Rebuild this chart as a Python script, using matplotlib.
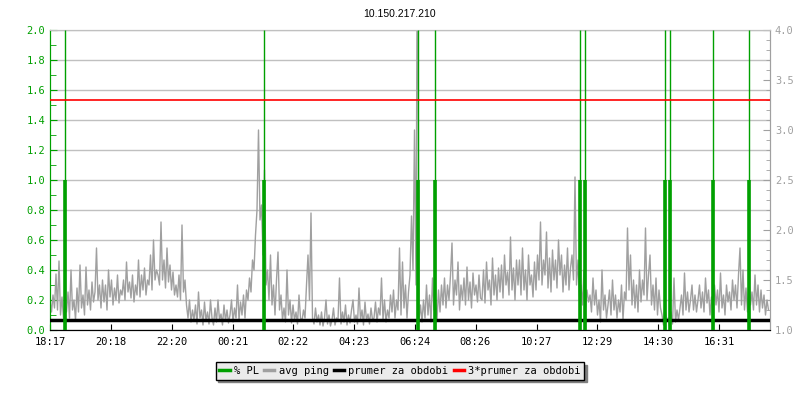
import matplotlib
matplotlib.use("Agg")
import matplotlib.pyplot as plt
import numpy as np
from matplotlib.lines import Line2D
from matplotlib.ticker import MultipleLocator, FormatStrFormatter

# avg ping [ms], one sample every 3 minutes from 18:17 (right axis)
ping = [
    1.30, 1.18, 1.35, 1.22, 1.56, 1.20, 1.69, 1.15, 1.33, 1.12, 1.25, 1.18,
    1.38, 1.12, 1.60, 1.20, 1.30, 1.10, 1.42, 1.18, 1.65, 1.22, 1.35, 1.15,
    1.63, 1.25, 1.40, 1.20, 1.48, 1.28, 1.38, 1.82, 1.30, 1.45, 1.22, 1.50,
    1.28, 1.45, 1.20, 1.60, 1.33, 1.50, 1.25, 1.42, 1.30, 1.55, 1.27, 1.40,
    1.35, 1.50, 1.30, 1.68, 1.38, 1.48, 1.32, 1.55, 1.28, 1.45, 1.35, 1.70,
    1.33, 1.55, 1.40, 1.62, 1.35, 1.50, 1.45, 1.75, 1.40, 1.90, 1.50, 1.60,
    1.55, 1.45, 2.08, 1.50, 1.70, 1.42, 1.82, 1.48, 1.65, 1.40, 1.58, 1.35,
    1.45, 1.33, 1.55, 1.30, 2.05, 1.38, 1.50, 1.25, 1.12, 1.30, 1.08, 1.20,
    1.10, 1.25, 1.06, 1.38, 1.12, 1.20, 1.05, 1.28, 1.09, 1.18, 1.06, 1.30,
    1.12, 1.05, 1.22, 1.08, 1.30, 1.10, 1.16, 1.05, 1.25, 1.09, 1.20, 1.07,
    1.15, 1.30, 1.08, 1.22, 1.12, 1.45, 1.10, 1.28, 1.15, 1.35, 1.12, 1.40,
    1.30, 1.52, 1.38, 1.70, 1.60, 1.95, 2.20, 3.00, 2.10, 2.25, 1.75, 2.60,
    1.45, 1.60, 1.30, 1.75, 1.25, 1.45, 1.15, 1.50, 1.78, 1.20, 1.35, 1.10,
    1.22, 1.08, 1.60, 1.15, 1.30, 1.07, 1.25, 1.10, 1.18, 1.06, 1.35, 1.12,
    1.09, 1.20, 1.12, 1.45, 1.75, 1.30, 2.17, 1.12, 1.06, 1.22, 1.08, 1.15,
    1.05, 1.18, 1.04, 1.12, 1.30, 1.06, 1.15, 1.04, 1.10, 1.22, 1.05, 1.12,
    1.10, 1.52, 1.06, 1.18, 1.08, 1.25, 1.05, 1.15, 1.07, 1.20, 1.30, 1.08,
    1.15, 1.06, 1.42, 1.10, 1.20, 1.05, 1.28, 1.09, 1.16, 1.06, 1.22, 1.10,
    1.12, 1.28, 1.08, 1.22, 1.15, 1.52, 1.10, 1.30, 1.08, 1.20, 1.12, 1.35,
    1.18, 1.40, 1.12, 1.30, 1.20, 1.82, 1.15, 1.68, 1.22, 1.45, 1.12, 1.38,
    1.55, 2.14, 1.60, 3.00, 1.45, 5.50, 1.10, 1.25, 1.08, 1.30, 1.12, 1.45,
    1.15, 1.35, 1.08, 1.52, 1.20, 1.30, 1.10, 1.40, 1.18, 1.45, 1.25, 1.52,
    1.22, 1.45, 1.30, 1.55, 1.87, 1.25, 1.50, 1.35, 1.68, 1.20, 1.45, 1.30,
    1.52, 1.25, 1.63, 1.30, 1.48, 1.22, 1.57, 1.35, 1.45, 1.28, 1.55, 1.32,
    1.30, 1.60, 1.27, 1.68, 1.40, 1.50, 1.25, 1.72, 1.35, 1.55, 1.30, 1.62,
    1.38, 1.65, 1.32, 1.75, 1.45, 1.58, 1.35, 1.93, 1.40, 1.62, 1.30, 1.70,
    1.45, 1.70, 1.35, 1.82, 1.40, 1.60, 1.30, 1.75, 1.45, 1.55, 1.33, 1.68,
    1.40, 1.75, 1.50, 2.08, 1.45, 1.70, 1.55, 1.98, 1.42, 1.72, 1.38, 1.80,
    1.50, 1.70, 1.42, 1.90, 1.55, 1.75, 1.38, 1.65, 1.45, 1.82, 1.40, 1.62,
    1.75, 1.50, 2.53, 1.45, 1.70, 1.30, 1.45, 1.25, 1.60, 1.22, 1.40, 1.28,
    1.35, 1.18, 1.52, 1.25, 1.40, 1.15, 1.30, 1.08, 1.60, 1.20, 1.35, 1.12,
    1.25, 1.40, 1.15, 1.50, 1.20, 1.35, 1.12, 1.30, 1.18, 1.45, 1.10, 1.38,
    1.30, 2.02, 1.40, 1.75, 1.25, 1.50, 1.22, 1.45, 1.18, 1.60, 1.28, 1.50,
    1.35, 2.02, 1.30, 1.55, 1.75, 1.25, 1.45, 1.20, 1.52, 1.15, 1.40, 1.22,
    1.15, 1.05, 1.22, 1.08, 1.12, 1.04, 1.18, 1.06, 1.52, 1.08, 1.20, 1.10,
    1.22, 1.35, 1.15, 1.57, 1.20, 1.38, 1.18, 1.30, 1.45, 1.20, 1.35, 1.18,
    1.30, 1.45, 1.22, 1.38, 1.18, 1.52, 1.27, 1.40, 1.15, 1.33, 1.22, 1.45,
    1.25, 1.40, 1.18, 1.57, 1.22, 1.35, 1.15, 1.45, 1.28, 1.38, 1.20, 1.50,
    1.30, 1.45, 1.22, 1.55, 1.82, 1.25, 1.60, 1.20, 1.42, 1.18, 1.50, 1.25,
    1.38, 1.20, 1.55, 1.25, 1.45, 1.18, 1.40, 1.22, 1.35, 1.15, 1.30, 1.20,
]
step_min = 3

# packet loss events: minutes from start, % PL (left axis)
pl_times = [30, 428, 736, 770, 1060, 1070, 1230, 1240, 1326, 1398]
pl_values = [1.0, 1.0, 1.0, 1.0, 1.0, 1.0, 1.0, 1.0, 1.0, 1.0]

prumer = 1.1          # prumer za obdobi
prumer3 = 3.3         # 3*prumer za obdobi

tick_pos = [0, 122, 243, 365, 486, 608, 730, 851, 973, 1094, 1216, 1338]
tick_labels = ["18:17", "20:18", "22:20", "00:21", "02:22", "04:23",
               "06:24", "08:26", "10:27", "12:29", "14:30", "16:31"]

GREEN = "#00a000"
GRAY = "#a0a0a0"
mono = "DejaVu Sans Mono"

fig = plt.figure(figsize=(8, 4), dpi=100)
ax = fig.add_axes([50 / 800, 70 / 400, 720 / 800, 300 / 400])
ax2 = ax.twinx()

t = np.arange(len(ping)) * step_min
ax.set_xlim(0, 1440)
ax.set_ylim(0, 2.0)
ax2.set_ylim(1.0, 4.0)

ax.yaxis.set_major_locator(MultipleLocator(0.2))
ax.yaxis.set_minor_locator(MultipleLocator(0.1))
ax2.yaxis.set_major_locator(MultipleLocator(0.5))
ax2.yaxis.set_minor_locator(MultipleLocator(0.1))
ax.grid(axis="y", color="#c0c0c0", lw=1)
ax.set_axisbelow(True)

ax2.plot(t, ping, color=GRAY, lw=1, zorder=2)
ax2.axhline(prumer, color="black", lw=2.5, zorder=4)
ax2.axhline(prumer3, color="#ff0000", lw=1.2, zorder=4)

# PL: thin full-height marker + thick bar up to the value
ax2.vlines(pl_times, 0, 2.0, color=GREEN, lw=1, zorder=3, transform=ax.transData)
ax2.vlines(pl_times, 0, pl_values, color=GREEN, lw=2.6, zorder=5, transform=ax.transData)

ax.set_xticks(tick_pos, tick_labels)
ax.tick_params(axis="x", direction="in", length=4, color="black", pad=5,
               labelsize=7.5)
ax.tick_params(axis="y", which="both", direction="in", colors=GREEN, labelsize=7.5)
ax.tick_params(axis="y", which="major", length=5)
ax.tick_params(axis="y", which="minor", length=4)
ax2.tick_params(axis="y", which="both", direction="in", colors=GRAY, labelsize=7.5)
ax2.tick_params(axis="y", which="major", length=5)
ax2.tick_params(axis="y", which="minor", length=3)
ax.yaxis.set_major_formatter(FormatStrFormatter("%.1f"))
ax2.yaxis.set_major_formatter(FormatStrFormatter("%.1f"))
for lab in ax.get_xticklabels() + ax.get_yticklabels() + ax2.get_yticklabels():
    lab.set_family(mono)

for a in (ax, ax2):
    a.spines["left"].set_color(GREEN)
    a.spines["right"].set_color(GRAY)
    a.spines["top"].set_color("#c0c0c0")
    a.spines["bottom"].set_color("black")

fig.text(0.5, 1 - 14 / 400, "10.150.217.210", ha="center", va="center",
         fontsize=7.5, family="Liberation Sans")

handles = [
    Line2D([], [], color=GREEN, lw=2.5),
    Line2D([], [], color=GRAY, lw=2.5),
    Line2D([], [], color="black", lw=2.5),
    Line2D([], [], color="#ff0000", lw=2.5),
]
names = ["% PL", "avg ping", "prumer za obdobi", "3*prumer za obdobi"]
leg = fig.legend(handles, names, loc="center", bbox_to_anchor=(0.5, 1 - 371 / 400),
                 ncol=4, prop={"family": mono, "size": 7.5}, handlelength=1.0,
                 handletextpad=0.4, columnspacing=0.5, borderpad=0.35,
                 fancybox=False, edgecolor="black", facecolor="#ebebeb",
                 framealpha=1, shadow={"color": "#808080", "alpha": 1})
leg.get_frame().set_linewidth(1)

fig.savefig("out.png", dpi=100)
